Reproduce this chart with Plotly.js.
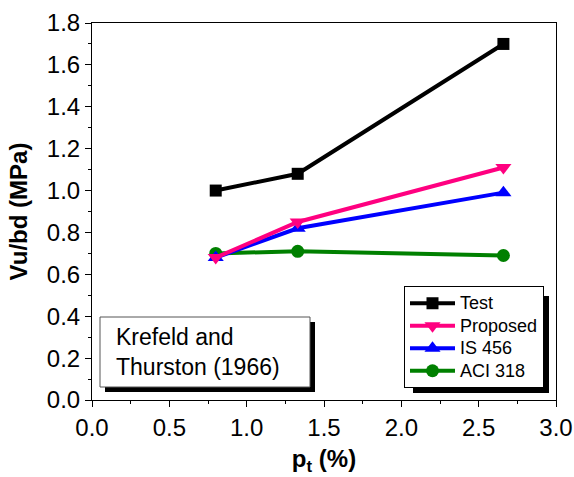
<!DOCTYPE html>
<html>
<head>
<meta charset="utf-8">
<script src="https://cdn.plot.ly/plotly-3.0.1.min.js"></script>
<style>html,body{margin:0;padding:0;background:#fff;}#chart{width:574px;height:477px;}</style>
</head>
<body>
<div id="chart"></div>
<script>
var pt = [0.8, 1.33, 2.66];
var testVals = [1.00, 1.08, 1.70];
var proposedVals = [0.68, 0.85, 1.11];
var is456Vals = [0.68, 0.82, 0.99];
var aci318Vals = [0.70, 0.71, 0.69];
var seriesNames = ['Test', 'Proposed', 'IS 456', 'ACI 318'];
var xTickVals = [0, 0.5, 1.0, 1.5, 2.0, 2.5, 3.0];
var yTickVals = [0, 0.2, 0.4, 0.6, 0.8, 1.0, 1.2, 1.4, 1.6, 1.8];

var FONT = 'Arial, "Liberation Sans", sans-serif';
function tr(name, y, color, symbol, size, rank) {
  return {x: pt, y: y, type: 'scatter', mode: 'lines+markers', legendrank: rank,
    name: '<span style="font-size:18px">' + name + '</span>',
    line: {color: color, width: 4}, marker: {color: color, symbol: symbol, size: size}};
}
var data = [
  tr(seriesNames[3], aci318Vals, '#008000', 'circle', 13, 4),
  tr(seriesNames[2], is456Vals, '#0000FF', 'triangle-up', 14, 3),
  tr(seriesNames[1], proposedVals, '#FF0080', 'triangle-down', 14, 2),
  tr(seriesNames[0], testVals, '#000000', 'square', 12, 1)
];

// helper: pixel -> paper
var L = 92, R = 556, T = 23, B = 400;
function px(x){ return (x - L) / (R - L); }
function py(y){ return (B - y) / (B - T); }

var layout = {
  width: 574, height: 477,
  margin: {l: L, r: 574 - R, t: T, b: 477 - B},
  paper_bgcolor: '#fff', plot_bgcolor: '#fff',
  font: {family: FONT, color: '#000', size: 24},
  showlegend: true,
  legend: {x: px(544), xanchor: 'right', y: py(388), yanchor: 'bottom',
    bgcolor: '#fff', bordercolor: '#000', borderwidth: 1,
    font: {family: FONT, size: 15, color: '#000'}, itemwidth: 45,
    tracegroupgap: 0, traceorder: 'normal'},
  xaxis: {range: [0, 3], tickvals: xTickVals, tickformat: '.1f',
    showline: true, linecolor: '#000', linewidth: 1, mirror: true,
    ticks: 'outside', ticklen: 6, tickcolor: '#000', showgrid: false, zeroline: false,
    minor: {dtick: 0.25, ticks: 'outside', ticklen: 3, tickcolor: '#000', showgrid: false},
    tickfont: {size: 24},
    title: {text: '<b>p<sub>t</sub> (%)</b>', font: {size: 24}, standoff: 10}},
  yaxis: {range: [0, 1.8], tickvals: yTickVals, tickformat: '.1f',
    showline: true, linecolor: '#000', linewidth: 1, mirror: true,
    ticks: 'outside', ticklen: 6, tickcolor: '#000', showgrid: false, zeroline: false,
    minor: {dtick: 0.1, ticks: 'outside', ticklen: 3, tickcolor: '#000', showgrid: false},
    tickfont: {size: 24},
    title: {text: '<b>Vu/bd (MPa)</b>', font: {size: 24}, standoff: 12}},
  shapes: [
    {type: 'rect', xref: 'paper', yref: 'paper', layer: 'above',
      x0: px(105), x1: px(315), y0: py(392), y1: py(322),
      fillcolor: '#000', line: {width: 0}},
    {type: 'rect', xref: 'paper', yref: 'paper', layer: 'above',
      x0: px(100), x1: px(310), y0: py(387), y1: py(317),
      fillcolor: '#fff', line: {color: '#555', width: 1}},
    {type: 'rect', xref: 'paper', yref: 'paper', layer: 'above',
      x0: px(413), x1: px(549), y0: py(393), y1: py(296),
      fillcolor: '#000', line: {width: 0}}
  ],
  annotations: [
    {xref: 'paper', yref: 'paper', x: px(114), y: py(352), xanchor: 'left', yanchor: 'middle',
      align: 'left', showarrow: false, text: 'Krefeld and<br>Thurston (1966)',
      font: {family: FONT, size: 23, color: '#000'}}
  ]
};
Plotly.newPlot('chart', data, layout, {displayModeBar: false, staticPlot: true});
</script>
</body>
</html>
